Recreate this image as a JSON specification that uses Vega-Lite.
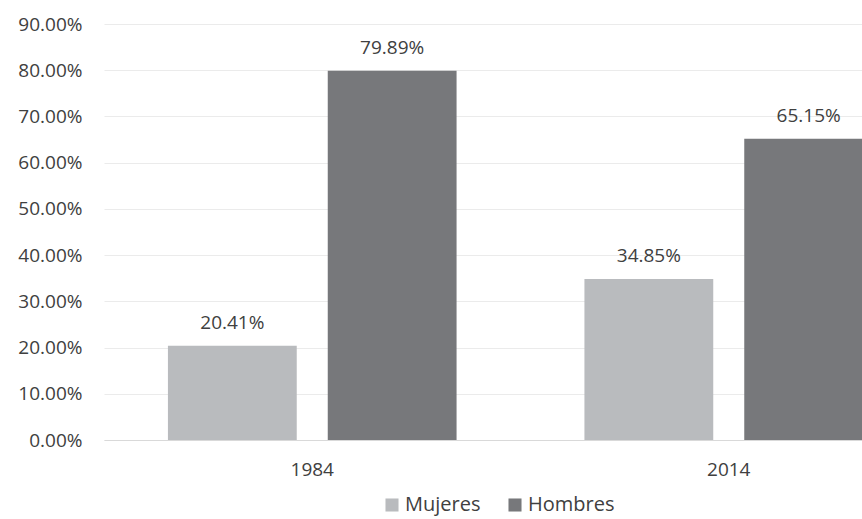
{
  "$schema": "https://vega.github.io/schema/vega-lite/v6.json",
  "width": 758,
  "height": 416,
  "autosize": {"type": "none"},
  "padding": {"left": 104, "top": 24, "right": 0, "bottom": 79},
  "background": "white",
  "config": {
    "font": "Open Sans",
    "view": {"stroke": null},
    "axis": {"labelFont": "Open Sans", "labelColor": "#404040", "labelFontSize": 19}
  },
  "data": {
    "values": [
      {"year": "1984", "sexo": "Mujeres", "valor": 0.2041},
      {"year": "1984", "sexo": "Hombres", "valor": 0.7989},
      {"year": "2014", "sexo": "Mujeres", "valor": 0.3485},
      {"year": "2014", "sexo": "Hombres", "valor": 0.6515}
    ]
  },
  "encoding": {
    "x": {
      "field": "year",
      "type": "nominal",
      "scale": {"range": [0, 833], "paddingInner": 0.307, "paddingOuter": 0.1535},
      "axis": {"title": null, "labelAngle": 0, "ticks": false, "domain": true, "domainColor": "#d9d9d9", "labelPadding": 20}
    },
    "xOffset": {
      "field": "sexo",
      "type": "nominal",
      "sort": ["Mujeres", "Hombres"],
      "scale": {"paddingInner": 0.194, "paddingOuter": 0}
    },
    "y": {
      "field": "valor",
      "type": "quantitative",
      "scale": {"domain": [0, 0.9]},
      "axis": {"title": null, "format": ".2%", "values": [0, 0.1, 0.2, 0.3, 0.4, 0.5, 0.6, 0.7, 0.8, 0.9], "ticks": false, "domain": false, "gridColor": "#ebebeb", "labelPadding": 22}
    }
  },
  "layer": [
    {
      "mark": {"type": "bar", "clip": true},
      "encoding": {
        "color": {
          "field": "sexo",
          "type": "nominal",
          "sort": ["Mujeres", "Hombres"],
          "scale": {"domain": ["Mujeres", "Hombres"], "range": ["#b9bbbe", "#77787b"]},
          "legend": {
            "title": null,
            "orient": "none",
            "direction": "horizontal",
            "legendX": 278,
            "legendY": 471,
            "symbolType": "square",
            "symbolSize": 170,
            "symbolStrokeWidth": 0,
            "labelFontSize": 20,
            "labelFont": "Open Sans",
            "labelColor": "#404040",
            "columnPadding": 24,
            "labelOffset": 3
          }
        }
      }
    },
    {
      "mark": {"type": "text", "baseline": "bottom", "dy": -13, "fontSize": 19, "color": "#404040", "font": "Open Sans"},
      "encoding": {
        "text": {"field": "valor", "type": "quantitative", "format": ".2%"}
      }
    }
  ]
}
